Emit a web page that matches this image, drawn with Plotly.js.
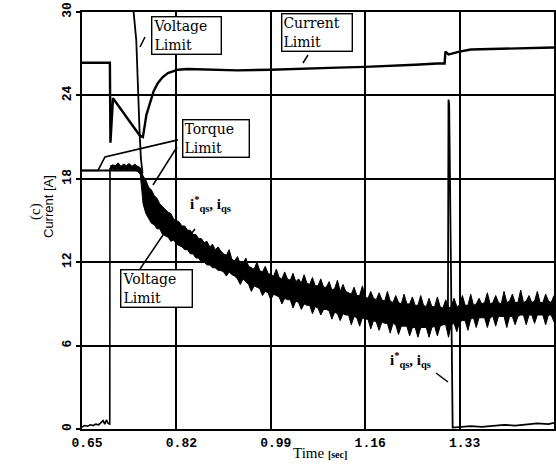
<!DOCTYPE html>
<html><head><meta charset="utf-8">
<script src="https://cdn.plot.ly/plotly-3.0.1.min.js"></script>
<style>html,body{margin:0;padding:0;background:#fff}#plot{width:556px;height:464px}</style>
</head><body><div id="plot"></div>
<script>
// ---- tick labels ----
const xTicks = [0.65, 0.82, 0.99, 1.16, 1.33, 1.50];
const xTickText = ["0.65", "0.82", "0.99", "1.16", "1.33", "1.50"];
const yTicks = [0, 6, 12, 18, 24, 30];
const yTickText = ["0", "6", "12", "18", "24", "30"];

// ---- current limit trace ----
const curLimT = [0.650, 0.7002, 0.7012, 0.7058, 0.7543, 0.7597, 0.7660, 0.7723, 0.7790, 0.7867, 0.7950, 0.8047, 0.8227, 0.8407, 0.880, 0.930, 0.990, 1.050, 1.110, 1.160, 1.200, 1.250, 1.290, 1.3030, 1.3045, 1.3060, 1.3100, 1.3160, 1.3300, 1.350, 1.400, 1.450, 1.500];
const curLimV = [26.35, 26.35, 20.6, 23.8, 21.1, 21.0, 22.6, 23.5, 24.3, 24.9, 25.3, 25.6, 25.85, 25.9, 25.85, 25.8, 25.85, 25.9, 26.0, 26.05, 26.1, 26.2, 26.3, 26.3, 27.15, 27.1, 26.95, 27.0, 27.15, 27.3, 27.35, 27.4, 27.45];

// ---- voltage limit (steep) trace ----
const voltLimT = [0.7410, 0.7477, 0.7538, 0.7560, 0.7590];
const voltLimV = [30.8, 28.0, 21.3, 19.5, 18.4];

// ---- torque limit trace ----
const torqLimT = [0.650, 0.6788, 0.6914, 0.8227];
const torqLimV = [18.6, 18.6, 19.57, 20.8];

// ---- i_qs* before the transient ----
const iqsRefT = [0.650, 0.7004, 0.7550];
const iqsRefV = [18.6, 18.6, 18.6];

// ---- i_qs near zero at start ----
const iqsStartT = [0.650, 0.655, 0.660, 0.665, 0.670, 0.675, 0.680, 0.685, 0.688, 0.691, 0.694, 0.697, 0.7000, 0.7004];
const iqsStartV = [0.15, 0.25, 0.2, 0.3, 0.25, 0.35, 0.3, 0.45, 0.6, 0.35, 0.65, 0.4, 0.35, 18.8];

// ---- noisy i_qs*, i_qs band (upper / lower envelope) ----
const bandT = [0.7004, 0.705, 0.710, 0.715, 0.720, 0.725, 0.730, 0.735, 0.740, 0.745, 0.750, 0.755,
  0.760, 0.765, 0.770, 0.775, 0.780, 0.785, 0.790, 0.795, 0.800, 0.805, 0.810, 0.815, 0.820, 0.825, 0.830, 0.835, 0.840, 0.845, 0.850, 0.855, 0.860, 0.865, 0.870, 0.875, 0.880, 0.885, 0.890, 0.895,
  0.900, 0.905, 0.910, 0.915, 0.920, 0.925, 0.930, 0.935, 0.940, 0.945,
  0.950, 0.955, 0.960, 0.965, 0.970, 0.975, 0.980, 0.985, 0.990, 0.995,
  1.000, 1.005, 1.010, 1.015, 1.020, 1.025, 1.030, 1.035, 1.040, 1.045,
  1.050, 1.055, 1.060, 1.065, 1.070, 1.075, 1.080, 1.085, 1.090, 1.095,
  1.100, 1.105, 1.110, 1.115, 1.120, 1.125, 1.130, 1.135, 1.140, 1.145,
  1.150, 1.155, 1.160, 1.165, 1.170, 1.175, 1.180, 1.185, 1.190, 1.195,
  1.200, 1.205, 1.210, 1.215, 1.220, 1.225, 1.230, 1.235, 1.240, 1.245,
  1.250, 1.255, 1.260, 1.265, 1.270, 1.275, 1.280, 1.285, 1.290, 1.295,
  1.300, 1.305, 1.310, 1.315, 1.320, 1.325, 1.330, 1.335, 1.340, 1.345,
  1.350, 1.355, 1.360, 1.365, 1.370, 1.375, 1.380, 1.385, 1.390, 1.395,
  1.400, 1.405, 1.410, 1.415, 1.420, 1.425, 1.430, 1.435, 1.440, 1.445,
  1.450, 1.455, 1.460, 1.465, 1.470, 1.475, 1.480, 1.485, 1.490, 1.495,
  1.500];
const bandHi = [18.9, 19.0, 18.95, 19.15, 18.9, 19.05, 18.95, 19.1, 18.9, 19.05, 18.9, 18.8,
  18.2, 17.9, 17.4, 17.2, 16.8, 16.6, 16.2, 16.0, 15.8, 15.6, 15.5, 15.1, 15.0, 14.9, 14.6, 14.6, 14.3, 14.3, 14.0, 14.0, 13.7, 13.7, 13.4, 13.5, 13.1, 13.3, 12.9, 13.1,
  12.8, 12.6, 12.5, 12.9, 12.2, 12.1, 12.4, 11.9, 11.9, 12.3,
  11.7, 11.6, 11.5, 12.0, 11.4, 11.3, 11.7, 11.2, 11.1, 11.0,
  11.5, 10.9, 10.8, 11.3, 10.8, 10.7, 11.2, 10.6, 10.8, 10.5,
  11.1, 10.5, 10.4, 10.9, 10.3, 10.3, 10.8, 10.2, 10.2, 10.6,
  10.0, 10.1, 10.7, 9.9, 10.4, 9.9, 9.8, 9.7, 10.2, 9.6,
  9.6, 10.3, 9.5, 9.4, 9.9, 9.4, 9.3, 9.8, 9.3, 9.2,
  9.9, 9.2, 9.1, 9.6, 9.1, 9.0, 9.7, 9.0, 9.0, 9.5,
  8.9, 8.9, 9.6, 8.9, 8.8, 9.4, 8.8, 8.8, 9.5, 8.8,
  8.7, 9.3, 8.7, 8.8, 9.4, 8.8, 8.9, 9.6, 8.9, 8.9,
  9.7, 8.9, 9.0, 9.4, 9.0, 9.1, 9.8, 9.0, 9.1, 9.6,
  9.1, 9.0, 9.9, 9.1, 9.2, 9.7, 9.1, 9.1, 10.0, 9.1,
  9.2, 9.6, 9.1, 9.2, 9.9, 9.1, 9.1, 9.7, 9.2, 9.1,
  9.6];
const bandLo = [18.6, 18.7, 18.65, 18.7, 18.6, 18.7, 18.6, 18.7, 18.65, 18.6, 18.55, 18.3,
  16.2, 15.5, 15.1, 14.8, 14.7, 14.4, 14.4, 14.0, 13.9, 13.8, 13.5, 13.6, 13.3, 13.2, 13.1, 12.9, 12.9, 12.6, 12.6, 12.3, 12.3, 12.0, 12.0, 11.8, 11.8, 11.6, 11.6, 11.4,
  11.4, 11.3, 11.0, 11.3, 11.1, 11.0, 10.8, 10.4, 10.8, 10.6,
  10.4, 9.9, 10.3, 10.2, 10.1, 9.6, 9.9, 9.8, 9.3, 9.7,
  9.6, 9.5, 9.0, 9.4, 9.3, 9.3, 8.7, 9.2, 9.1, 8.6,
  9.0, 8.9, 8.9, 8.3, 8.8, 8.7, 8.2, 8.6, 8.6, 8.5,
  7.9, 8.4, 8.3, 7.8, 8.3, 8.2, 8.2, 7.5, 8.1, 8.0,
  7.4, 8.0, 7.9, 7.9, 7.2, 7.8, 7.7, 7.1, 7.7, 7.6,
  7.6, 6.9, 7.6, 7.5, 6.8, 7.4, 7.4, 7.4, 6.7, 7.3,
  7.3, 6.6, 7.3, 7.3, 7.3, 6.6, 7.3, 7.4, 6.7, 7.4,
  7.5, 7.5, 6.6, 7.5, 7.6, 7.0, 7.7, 7.8, 7.8, 7.1,
  7.9, 8.0, 7.3, 8.0, 8.0, 8.0, 7.3, 8.0, 8.1, 7.4,
  8.1, 8.1, 8.1, 7.3, 8.1, 8.1, 7.5, 8.1, 8.2, 8.2,
  7.5, 8.2, 8.2, 7.6, 8.2, 8.2, 8.2, 7.5, 8.2, 8.2,
  7.7];

// ---- i_qs spike and tail near zero ----
const iqsTailT = [1.3090, 1.3100, 1.3112, 1.3175, 1.33, 1.35, 1.37, 1.39, 1.41, 1.43, 1.45, 1.47, 1.49, 1.50];
const iqsTailV = [8.3, 23.7, 23.4, 0.1, 0.15, 0.2, 0.15, 0.25, 0.3, 0.25, 0.35, 0.4, 0.35, 0.45];

// ---- layout helpers (pixel -> axis position for annotation placement) ----
const PL = 82, PR = 554, PT = 12, PB = 429;
function ax(px) { return 0.65 + (px - PL) * 0.85 / (PR - PL); }
function ay(py) { return (PB - py) * 30 / (PB - PT); }

const black = '#000';
const ln = (w) => ({ color: black, width: w });

const traces = [
  { x: iqsRefT, y: iqsRefV, mode: 'lines', line: ln(2) },
  { x: torqLimT, y: torqLimV, mode: 'lines', line: ln(1.6) },
  { x: iqsStartT, y: iqsStartV, mode: 'lines', line: ln(1.6) },
  { x: bandT, y: bandLo, mode: 'lines', line: ln(1) },
  { x: bandT, y: bandHi, mode: 'lines', line: ln(1), fill: 'tonexty', fillcolor: black },
  { x: iqsTailT, y: iqsTailV, mode: 'lines', line: ln(1.8) },
  { x: voltLimT, y: voltLimV, mode: 'lines', line: ln(1.8) },
  { x: curLimT, y: curLimV, mode: 'lines', line: ln(2.4) }
];

const serif = 'DejaVu Serif';
// boxed labels: text, centre px x, centre px y, box width px
const boxes = [
  ['Voltage<br>Limit', 186.5, 35, 66],
  ['Current<br>Limit', 317, 32.5, 67],
  ['Torque<br>Limit', 216, 138.5, 63],
  ['Voltage<br>Limit', 156.5, 288, 68]
];
const leaders = [
  [145, 37, 140, 47],
  [308, 55, 303, 63],
  [177, 147, 153, 185],
  [140, 269, 163, 235],
  [195, 229, 188, 238],
  [436, 373, 448, 382]
];

const shapes = [];
const annotations = [];
boxes.forEach(b => annotations.push({ xref: 'x', yref: 'y', x: ax(b[1]), y: ay(b[2]), text: b[0],
  xanchor: 'center', yanchor: 'middle', showarrow: false, align: 'left', width: b[3],
  bgcolor: '#fff', bordercolor: black, borderwidth: 1.4, borderpad: 1,
  font: { family: serif, size: 14, color: black } }));
leaders.forEach(s => shapes.push({ type: 'line', xref: 'x', yref: 'y', x0: ax(s[0]), y0: ay(s[1]), x1: ax(s[2]), y1: ay(s[3]),
  line: { color: black, width: 1.5 } }));

const iqsLabel = 'i<sup>*</sup><sub>qs</sub>, i<sub>qs</sub>';
annotations.push({ xref: 'x', yref: 'y', x: ax(210), y: ay(204), text: iqsLabel, showarrow: false,
  font: { family: 'Liberation Serif', size: 15, color: black, weight: 'bold' } });
annotations.push({ xref: 'x', yref: 'y', x: ax(410), y: ay(360), text: iqsLabel, showarrow: false,
  font: { family: 'Liberation Serif', size: 15, color: black, weight: 'bold' } });
// axis titles
annotations.push({ xref: 'paper', yref: 'paper', x: (320 - PL) / (PR - PL), y: (PB - 453) / (PB - PT),
  text: "Time <span style='font-size:10px;font-weight:bold'>[sec]</span>", showarrow: false,
  xanchor: 'center', yanchor: 'middle', font: { family: 'Liberation Serif', size: 15, color: black } });
annotations.push({ xref: 'paper', yref: 'paper', x: (48 - PL) / (PR - PL), y: (PB - 207) / (PB - PT),
  text: 'Current [A]', textangle: -90, showarrow: false, xanchor: 'center', yanchor: 'middle',
  font: { family: 'Liberation Sans', size: 13, color: black } });
annotations.push({ xref: 'paper', yref: 'paper', x: (35 - PL) / (PR - PL), y: (PB - 212) / (PB - PT),
  text: '(c)', textangle: -90, showarrow: false, xanchor: 'center', yanchor: 'middle',
  font: { family: 'Liberation Serif', size: 15, color: black } });

const axisCommon = {
  showgrid: true, gridcolor: black, gridwidth: 2, zeroline: false,
  showline: true, linecolor: black, linewidth: 2, mirror: true
};

const layout = {
  width: 556, height: 464,
  margin: { l: PL, r: 556 - PR, t: PT, b: 464 - PB, pad: 0 },
  paper_bgcolor: '#fff', plot_bgcolor: '#fff', showlegend: false,
  xaxis: Object.assign({}, axisCommon, { range: [0.65, 1.50], tickvals: xTicks, ticktext: xTickText,
    ticks: '', ticklabelshift: 5,
    tickfont: { family: 'Liberation Mono', size: 13, color: black, weight: 'bold' } }),
  yaxis: Object.assign({}, axisCommon, { range: [0, 30], tickvals: yTicks, ticktext: yTickText, tickangle: -90,
    ticks: 'outside', ticklen: 4, tickwidth: 2, tickcolor: black,
    tickfont: { family: 'Liberation Mono', size: 13, color: black, weight: 'bold' } }),
  shapes: shapes,
  annotations: annotations
};

Plotly.newPlot('plot', traces, layout, { staticPlot: true, displayModeBar: false });
</script>
</body></html>
